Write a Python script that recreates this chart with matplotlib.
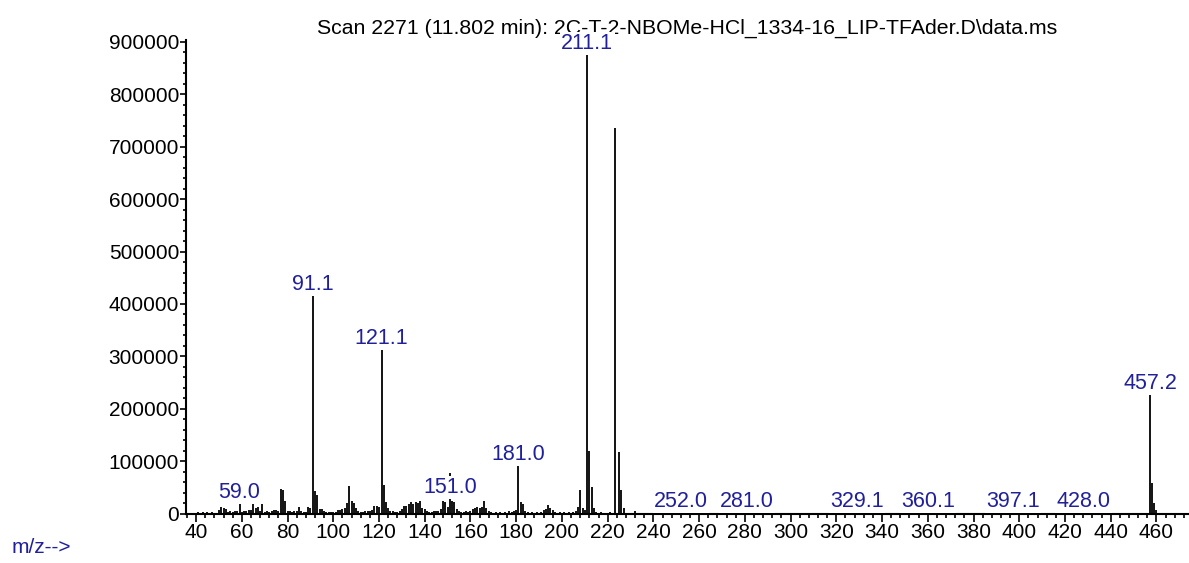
import numpy as np
import matplotlib
matplotlib.use("Agg")
from matplotlib import pyplot as plt
from matplotlib.ticker import MultipleLocator, FuncFormatter

title = "Scan 2271 (11.802 min): 2C-T-2-NBOMe-HCl_1334-16_LIP-TFAder.D\\data.ms"

# m/z of each ion
mz = [41, 43, 45, 47, 50, 51, 52, 53, 54, 55, 56, 57, 58, 59.0, 60, 61, 62, 63, 64, 65,
      66, 67, 68, 69, 70, 71, 72, 73, 74, 75, 76, 77, 78, 79, 80, 81, 82, 83, 84, 85,
      86, 87, 88, 89, 90, 91.1, 92, 93, 94, 95, 96, 97, 98, 99, 100, 101, 102, 103, 104, 105,
      106, 107, 108, 109, 110, 111, 112, 113, 114, 115, 116, 117, 118, 119, 120, 121.1, 122, 123, 124, 125,
      126, 127, 128, 129, 130, 131, 132, 133, 134, 135, 136, 137, 138, 139, 140, 141, 142, 143, 144, 145,
      146, 147, 148, 149, 150, 151.0, 152, 153, 154, 155, 156, 157, 158, 159, 160, 161, 162, 163, 164, 165,
      166, 167, 168, 169, 171, 173, 175, 177, 178, 179, 180, 181.0, 182, 183, 184, 185, 187, 189, 191, 192,
      193, 194, 195, 196, 197, 199, 201, 203, 205, 206, 207, 208, 209, 210, 211.1, 212, 213, 214, 215, 217,
      221, 223.4, 225, 226, 227, 232, 252.0, 281.0, 329.1, 360.1, 397.1, 428.0, 457.2, 458, 459, 460]

abundance = [2000, 3000, 2000, 2000, 6000, 12000, 10000, 9000, 3000, 5000, 3000, 4000, 5000, 20000, 3000, 4000, 5000, 7000, 6000, 20000,
             11000, 12000, 5000, 19000, 3000, 5000, 3000, 5000, 6000, 7000, 5000, 47000, 44000, 23000, 5000, 4000, 3000, 5000, 4000, 12000,
             4000, 3000, 3000, 12000, 11000, 417000, 42000, 36000, 9000, 8000, 5000, 3000, 2000, 3000, 3000, 3000, 6000, 7000, 8000, 11000,
             20000, 52000, 23000, 20000, 10000, 5000, 3000, 3000, 4000, 5000, 4000, 6000, 14000, 15000, 12000, 314000, 55000, 21000, 10000, 5000,
             4000, 3000, 3000, 5000, 9000, 15000, 14000, 19000, 21000, 18000, 22000, 20000, 24000, 10000, 8000, 4000, 3000, 3000, 4000, 5000,
             5000, 8000, 23000, 22000, 12000, 78000, 23000, 22000, 8000, 4000, 3000, 3000, 4000, 3000, 4000, 8000, 10000, 12000, 11000, 12000,
             23000, 10000, 5000, 3000, 2000, 3000, 2000, 4000, 3000, 5000, 6000, 93000, 21000, 18000, 5000, 2000, 2000, 2000, 3000, 6000,
             9000, 16000, 11000, 6000, 3000, 2000, 2000, 3000, 3000, 4000, 13000, 44000, 10000, 7000, 877000, 120000, 51000, 10000, 3000, 2000,
             2000, 735000, 117000, 45000, 10000, 5000, 3000, 4000, 3000, 3000, 3000, 3000, 229000, 58000, 20000, 6000]

labelled = [59.0, 91.1, 121.1, 151.0, 181.0, 211.1, 252.0, 281.0, 329.1, 360.1, 397.1, 428.0, 457.2]

blue = "#20209a"
plt.rcParams["font.family"] = ["Liberation Sans", "DejaVu Sans"]
fs = 15

fig = plt.figure(figsize=(11.89, 5.63), dpi=100)
ax = fig.add_axes([186 / 1189, 49.5 / 563, 1002 / 1189, 473.5 / 563])

ax.vlines(mz, 0, abundance, colors="black", linewidth=1.3, zorder=2)

ax.set_xlim(35.6, 473.8)
ax.set_ylim(0, 903800)

ax.xaxis.set_major_locator(MultipleLocator(20))
ax.xaxis.set_minor_locator(MultipleLocator(4))
ax.yaxis.set_major_locator(MultipleLocator(100000))
ax.yaxis.set_minor_locator(MultipleLocator(20000))
ax.yaxis.set_major_formatter(FuncFormatter(lambda v, p: f"{v:.0f}"))
ax.set_xticks(np.arange(40, 461, 20))

for s in ["top", "right"]:
    ax.spines[s].set_visible(False)
for s in ["left", "bottom"]:
    ax.spines[s].set_linewidth(1.5)

ax.tick_params(axis="x", which="major", length=5.5, width=1.2, pad=1, labelsize=fs)
ax.tick_params(axis="x", which="minor", length=3, width=1.2)
ax.tick_params(axis="y", which="major", length=4.5, width=1.2, pad=0.5, labelsize=fs)
ax.tick_params(axis="y", which="minor", length=2.5, width=1.2)

# the 151 label sits on the low cluster, its tall line runs behind it
label_anchor = {151.0: 30000}
for m in labelled:
    h = abundance[mz.index(m)]
    ax.annotate(f"{m:.1f}", xy=(m, label_anchor.get(m, h)), xytext=(0, 3.5),
                textcoords="offset points", ha="center", va="baseline",
                color=blue, fontsize=15.5, zorder=5, annotation_clip=False,
                bbox=dict(facecolor="white", edgecolor="none", pad=1))

ax.text(0.5, 1.014, title, transform=ax.transAxes, ha="center", va="baseline",
        fontsize=15.3, zorder=3, clip_on=False)

fig.text(12 / 1189, 10 / 563, "m/z-->", color=blue, fontsize=fs, ha="left", va="baseline")

fig.savefig("out.png", dpi=100)
